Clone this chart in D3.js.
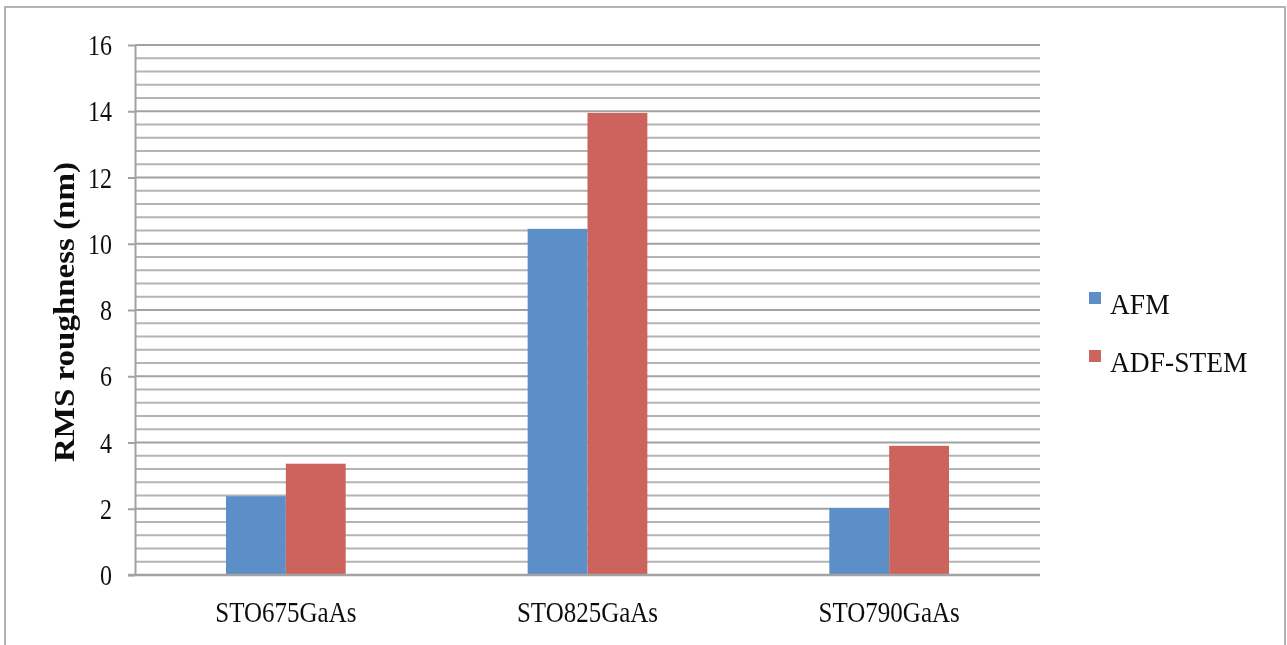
<!DOCTYPE html>
<html>
<head>
<meta charset="utf-8">
<script src="https://cdn.jsdelivr.net/npm/d3@7"></script>
<style>
  html, body { margin: 0; padding: 0; background: #fff; }
  svg { display: block; }
</style>
</head>
<body>
<svg id="chart" width="1287" height="645"></svg>
<script>
// Sample names and measured RMS roughness (nm)
const categories = ["STO675GaAs", "STO825GaAs", "STO790GaAs"];
const seriesNames = ["AFM", "ADF-STEM"];
const afmValues = [2.38, 10.45, 2.02];
const adfStemValues = [3.36, 13.95, 3.9];
const yTickLabels = [0, 2, 4, 6, 8, 10, 12, 14, 16];
const minorStep = 0.4;

const colors = { "AFM": "#5b8fc8", "ADF-STEM": "#cc645c" };
const rows = categories.map((c, i) => ({ category: c, values: [afmValues[i], adfStemValues[i]] }));

const FONT = "Liberation Serif, Times New Roman, serif";
const svg = d3.select("#chart");
const W = 1287, H = 645;
const plot = { left: 135, right: 1040, top: 45, bottom: 575 };

svg.append("defs").append("filter").attr("id", "soft")
  .append("feGaussianBlur").attr("stdDeviation", 0.55);
const g = svg.append("g").attr("filter", "url(#soft)");

// Outer frame
g.append("rect").attr("x", 5).attr("y", 7).attr("width", W - 7).attr("height", H + 10)
  .attr("fill", "#fff").attr("stroke", "#b4b4b4").attr("stroke-width", 2);

const y = d3.scaleLinear().domain([0, 16]).range([plot.bottom, plot.top]);
const x0 = d3.scaleBand().domain(categories).range([plot.left, plot.right]);
const x1 = d3.scaleBand().domain(seriesNames)
  .range([0, x0.bandwidth()]).paddingOuter(1.52).paddingInner(0);

// Gridlines (minor every 0.4, major every 2)
const gridVals = d3.range(0, 16 + 1e-9, minorStep).map(v => +v.toFixed(2)).filter(v => v > 0);
g.append("g").selectAll("line").data(gridVals).join("line")
  .attr("x1", plot.left).attr("x2", plot.right)
  .attr("y1", d => y(d)).attr("y2", d => y(d))
  .attr("stroke", d => Math.abs(d / 2 - Math.round(d / 2)) < 1e-6 ? "#a2a2a2" : "#b4b4b4")
  .attr("stroke-width", 2);

// Bars
const groups = g.append("g").selectAll("g").data(rows).join("g")
  .attr("transform", d => `translate(${x0(d.category)},0)`);
groups.selectAll("rect").data(d => d.values.map((v, i) => ({ key: seriesNames[i], value: v })))
  .join("rect")
  .attr("x", d => x1(d.key))
  .attr("width", x1.bandwidth())
  .attr("y", d => y(d.value))
  .attr("height", d => y(0) - y(d.value))
  .attr("fill", d => colors[d.key]);

// Y axis
const yAxis = d3.axisLeft(y).tickValues(yTickLabels).tickSize(7).tickSizeOuter(0).tickPadding(16);
const ya = g.append("g").attr("transform", `translate(${plot.left},0)`).call(yAxis);
ya.select(".domain").attr("stroke", "#a2a2a2").attr("stroke-width", 2);
ya.selectAll(".tick line").attr("stroke", "#a2a2a2").attr("stroke-width", 2);
ya.selectAll(".tick text").attr("font-family", FONT)
  .attr("font-size", 24).attr("fill", "#111")
  .attr("transform", "scale(1,1.25)");

// X axis
const xAxis = d3.axisBottom(x0).tickSize(0).tickPadding(0);
const xa = g.append("g").attr("transform", `translate(0,${plot.bottom})`).call(xAxis);
xa.select(".domain").attr("d", `M${plot.left - 7},0H${plot.right}`)
  .attr("stroke", "#a2a2a2").attr("stroke-width", 2.5);
xa.selectAll(".tick text").attr("font-family", FONT)
  .attr("font-size", 25).attr("fill", "#111")
  .attr("y", 0).attr("dy", 0)
  .attr("transform", "translate(0,47) scale(1,1.2)");

// Y axis title
g.append("text")
  .attr("transform", `translate(74,${(plot.top + plot.bottom) / 2 + 2}) rotate(-90) scale(1.1,1)`)
  .attr("text-anchor", "middle")
  .attr("font-family", FONT)
  .attr("font-weight", "bold").attr("font-size", 30).attr("fill", "#111")
  .text("RMS roughness (nm)");

// Legend
const legend = g.append("g").selectAll("g").data(seriesNames).join("g")
  .attr("transform", (d, i) => `translate(1089,${292 + i * 58})`);
legend.append("rect").attr("width", 12).attr("height", 12).attr("fill", d => colors[d]);
legend.append("text")
  .attr("transform", "translate(21,22) scale(1,1.08)")
  .attr("font-family", FONT)
  .attr("font-size", 27.5).attr("fill", "#111")
  .text(d => d);
</script>
</body>
</html>
